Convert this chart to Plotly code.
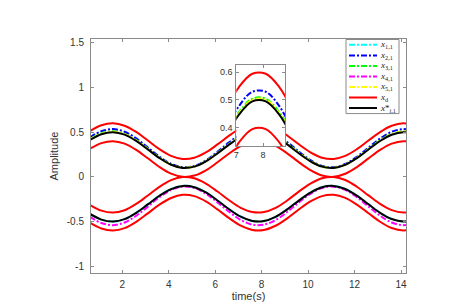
import plotly.graph_objects as go

# ---------------- data ----------------
time_s = [0.6, 1.1, 1.6, 2.1, 2.6, 3.1, 3.6, 4.1, 4.6, 5.1, 5.6, 6.1, 6.6, 7.1, 7.6,
          8.1, 8.6, 9.1, 9.6, 10.1, 10.6, 11.1, 11.6, 12.1, 12.6, 13.1, 13.6, 14.1, 14.6]

# leader envelope x_d, upper group (upper / lower bound)
xd_up_hi = [0.513, 0.578, 0.600, 0.573, 0.503, 0.408, 0.311, 0.236, 0.201, 0.215, 0.274, 0.364,
            0.462, 0.546, 0.594, 0.594, 0.547, 0.464, 0.365, 0.275, 0.215, 0.201, 0.235, 0.310,
            0.407, 0.502, 0.572, 0.600, 0.579]
xd_up_lo = [0.313, 0.378, 0.400, 0.373, 0.303, 0.208, 0.111, 0.036, 0.001, 0.015, 0.074, 0.164,
            0.262, 0.346, 0.394, 0.394, 0.347, 0.264, 0.165, 0.075, 0.015, 0.001, 0.035, 0.110,
            0.207, 0.302, 0.372, 0.400, 0.379]
# leader envelope x_d, lower group
xd_dn_hi = [-0.313, -0.378, -0.400, -0.373, -0.303, -0.208, -0.111, -0.036, -0.001, -0.015, -0.074,
            -0.164, -0.262, -0.346, -0.394, -0.394, -0.347, -0.264, -0.165, -0.075, -0.015, -0.001,
            -0.035, -0.110, -0.207, -0.302, -0.372, -0.400, -0.379]
xd_dn_lo = [-0.513, -0.578, -0.600, -0.573, -0.503, -0.408, -0.311, -0.236, -0.201, -0.215, -0.274,
            -0.364, -0.462, -0.546, -0.594, -0.594, -0.547, -0.464, -0.365, -0.275, -0.215, -0.201,
            -0.235, -0.310, -0.407, -0.502, -0.572, -0.600, -0.579]

# reference x*_{i,1}, both groups
xstar_up = [0.413, 0.478, 0.500, 0.473, 0.403, 0.308, 0.211, 0.136, 0.101, 0.115, 0.174, 0.264,
            0.362, 0.446, 0.494, 0.494, 0.447, 0.364, 0.265, 0.175, 0.115, 0.101, 0.135, 0.210,
            0.307, 0.402, 0.472, 0.500, 0.479]
xstar_dn = [-0.413, -0.478, -0.500, -0.473, -0.403, -0.308, -0.211, -0.136, -0.101, -0.115, -0.174,
            -0.264, -0.362, -0.446, -0.494, -0.494, -0.447, -0.364, -0.265, -0.175, -0.115, -0.101,
            -0.135, -0.210, -0.307, -0.402, -0.472, -0.500, -0.479]

# followers
x11 = [-0.413, -0.478, -0.500, -0.473, -0.403, -0.308, -0.211, -0.136, -0.101, -0.115, -0.174,
       -0.264, -0.362, -0.446, -0.494, -0.494, -0.447, -0.364, -0.265, -0.175, -0.115, -0.101,
       -0.135, -0.210, -0.307, -0.402, -0.472, -0.500, -0.479]
x21 = [0.442, 0.511, 0.535, 0.506, 0.431, 0.330, 0.226, 0.146, 0.108, 0.123, 0.186, 0.282,
       0.387, 0.477, 0.529, 0.529, 0.478, 0.389, 0.284, 0.187, 0.123, 0.108, 0.144, 0.225,
       0.328, 0.430, 0.505, 0.535, 0.513]
x31 = [0.421, 0.488, 0.510, 0.482, 0.411, 0.314, 0.215, 0.139, 0.103, 0.117, 0.177, 0.269,
       0.369, 0.455, 0.504, 0.504, 0.456, 0.371, 0.270, 0.179, 0.117, 0.103, 0.138, 0.214,
       0.313, 0.410, 0.481, 0.510, 0.489]
x41 = [-0.446, -0.516, -0.540, -0.511, -0.435, -0.333, -0.228, -0.147, -0.109, -0.124, -0.188,
       -0.285, -0.391, -0.482, -0.534, -0.534, -0.483, -0.393, -0.286, -0.189, -0.124, -0.109,
       -0.146, -0.227, -0.332, -0.434, -0.510, -0.540, -0.517]
x51 = [0.418, 0.484, 0.506, 0.479, 0.408, 0.312, 0.214, 0.138, 0.102, 0.116, 0.176, 0.267,
       0.366, 0.451, 0.500, 0.500, 0.452, 0.368, 0.268, 0.177, 0.116, 0.102, 0.137, 0.213,
       0.311, 0.407, 0.478, 0.506, 0.485]

x_ticks = [2, 4, 6, 8, 10, 12, 14]
y_ticks = [-1, -0.5, 0, 0.5, 1, 1.5]
y_tick_text = ["-1", "-0.5", "0", "0.5", "1", "1.5"]
inset_x_ticks = [7, 8]
inset_y_ticks = [0.4, 0.5, 0.6]

legend_labels = ["<i>x</i><sub>1,1</sub>", "<i>x</i><sub>2,1</sub>", "<i>x</i><sub>3,1</sub>",
                 "<i>x</i><sub>4,1</sub>", "<i>x</i><sub>5,1</sub>", "<i>x</i><sub>d</sub>",
                 "<i>x</i>*<sub><i>i</i>,1</sub>"]

# ---------------- styles ----------------
DASH = "6px,2px,2px,2px"
series = [
    (x11, "#00FFFF", DASH),
    (x21, "#0000FF", DASH),
    (x31, "#00FF00", DASH),
    (x41, "#FF00FF", DASH),
    (x51, "#FFFF00", DASH),
    (xd_up_hi, "#FF0000", "solid"),
    (xd_up_lo, "#FF0000", "solid"),
    (xd_dn_hi, "#FF0000", "solid"),
    (xd_dn_lo, "#FF0000", "solid"),
    (xstar_up, "#000000", "solid"),
    (xstar_dn, "#000000", "solid"),
]
legend_styles = [("#00FFFF", DASH), ("#0000FF", DASH), ("#00FF00", DASH), ("#FF00FF", DASH),
                 ("#FFFF00", DASH), ("#FF0000", "solid"), ("#000000", "solid")]

fig = go.Figure()
for vals, col, dash in series:
    fig.add_trace(go.Scatter(x=time_s, y=vals, mode="lines", showlegend=False, hoverinfo="skip",
                             line=dict(color=col, width=2, dash=dash, shape="spline"),
                             xaxis="x", yaxis="y"))
for vals, col, dash in series:
    fig.add_trace(go.Scatter(x=time_s, y=vals, mode="lines", showlegend=False, hoverinfo="skip",
                             line=dict(color=col, width=2, dash=dash, shape="spline"),
                             xaxis="x2", yaxis="y2"))

W, H = 449, 305
ML, MR, MT, MB = 83, 51, 31, 34
PW, PH = W - ML - MR, H - MT - MB
AX = "#8a8a8a"
TXT = "#333333"
FONT = "Liberation Sans, Arial, sans-serif"


def px(xp):
    return (xp - ML) / PW


def py(yp):
    return (H - MB - yp) / PH


axis_common = dict(showgrid=False, zeroline=False, showline=True, linecolor=AX, linewidth=1,
                   mirror="ticks", ticks="inside", ticklen=3, tickcolor=AX, tickwidth=1)

fig.update_layout(
    width=W, height=H,
    margin=dict(l=ML, r=MR, t=MT, b=MB),
    paper_bgcolor="white", plot_bgcolor="white",
    font=dict(family=FONT, color=TXT, size=10),
    showlegend=False,
    xaxis=dict(range=[0.654, 14.215], tickvals=x_ticks, ticklabelstandoff=2,
               title=dict(text="time(s)", font=dict(size=11), standoff=3), **axis_common),
    yaxis=dict(range=[-1.076, 1.544], tickvals=y_ticks, ticktext=y_tick_text, ticklabelstandoff=4,
               title=dict(text="Amplitude", font=dict(size=11), standoff=5), **axis_common),
    xaxis2=dict(domain=[px(228.3), px(277)], anchor="y2", range=[7, 8.82], tickvals=inset_x_ticks,
                tickfont=dict(size=9), ticklabelstandoff=0, **axis_common),
    yaxis2=dict(domain=[py(140.7), py(57.3)], anchor="x2", range=[0.333, 0.627],
                tickvals=inset_y_ticks, tickfont=dict(size=9), ticklabelstandoff=1, **axis_common),
)

# ---- legend box (MATLAB-style, compact) ----
fig.add_shape(type="rect", xref="paper", yref="paper", x0=px(338), x1=px(391), y0=py(107.5), y1=py(31.5),
              line=dict(color=AX, width=1), fillcolor="white", layer="above")
for i, ((col, dash), lab) in enumerate(zip(legend_styles, legend_labels)):
    yy = py(37 + 10.8 * i)
    fig.add_shape(type="line", xref="paper", yref="paper", x0=px(341), x1=px(369), y0=yy, y1=yy,
                  line=dict(color=col, width=2, dash=dash), layer="above")
    fig.add_annotation(xref="paper", yref="paper", x=px(370), y=yy, text=lab, showarrow=False,
                       xanchor="left", yanchor="middle",
                       font=dict(family="Liberation Serif, Times New Roman, serif", size=9, color="#222"))

fig.write_html("out.html", config={"displayModeBar": False})
